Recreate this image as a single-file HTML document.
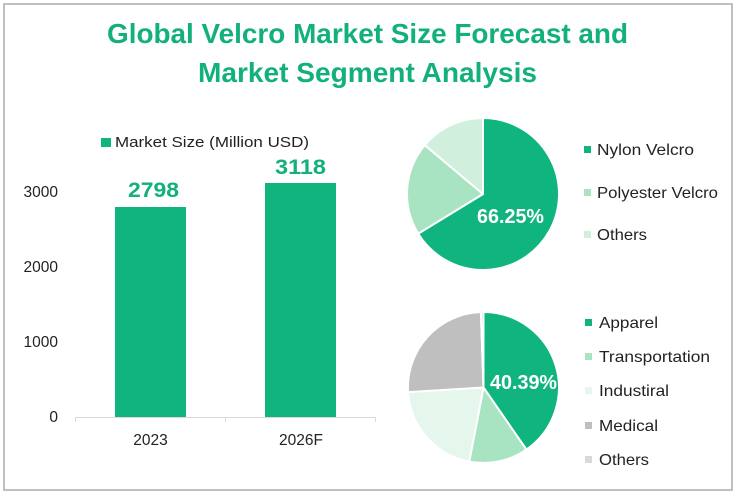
<!DOCTYPE html>
<html><head><meta charset="utf-8"><style>
html,body{margin:0;padding:0;background:#fff;}
svg{display:block;}
text{font-family:"Liberation Sans",sans-serif;}
</style></head><body>
<svg width="736" height="494" viewBox="0 0 736 494" xmlns="http://www.w3.org/2000/svg">
<rect x="0" y="0" width="736" height="494" fill="#fff"/>
<rect x="4" y="4" width="728" height="486" fill="none" stroke="#bfbfbf" stroke-width="2"/>
<!-- Title -->
<text x="107" y="43" font-size="28" font-weight="bold" fill="#12b07b" textLength="521" lengthAdjust="spacingAndGlyphs">Global Velcro Market Size Forecast and</text>
<text x="198" y="82" font-size="28" font-weight="bold" fill="#12b07b" textLength="339" lengthAdjust="spacingAndGlyphs">Market Segment Analysis</text>
<!-- Bar chart legend -->
<rect x="101" y="138" width="10" height="9" fill="#10b47e"/>
<text x="115" y="147" font-size="15" fill="#222" textLength="194" lengthAdjust="spacingAndGlyphs">Market Size (Million USD)</text>
<!-- Y labels -->
<g font-size="15.5" fill="#222" text-anchor="end">
<text x="58" y="197">3000</text>
<text x="58" y="272">2000</text>
<text x="58" y="347">1000</text>
<text x="58" y="422">0</text>
</g>
<!-- Bars -->
<rect x="115" y="207" width="71" height="210" fill="#10b47e"/>
<rect x="265" y="183" width="71" height="234" fill="#10b47e"/>
<!-- Axis -->
<line x1="75" y1="417.5" x2="376" y2="417.5" stroke="#d9d9d9" stroke-width="1"/>
<line x1="75.5" y1="417" x2="75.5" y2="422" stroke="#d9d9d9"/>
<line x1="225.5" y1="417" x2="225.5" y2="422" stroke="#d9d9d9"/>
<line x1="375.5" y1="417" x2="375.5" y2="422" stroke="#d9d9d9"/>
<!-- Data labels -->
<text x="128" y="197" font-size="21" font-weight="bold" fill="#12b07b" textLength="51" lengthAdjust="spacingAndGlyphs">2798</text>
<text x="275" y="174" font-size="21" font-weight="bold" fill="#12b07b" textLength="51" lengthAdjust="spacingAndGlyphs">3118</text>
<!-- Category labels -->
<text x="150.5" y="445" font-size="15.5" fill="#222" text-anchor="middle">2023</text>
<text x="301" y="445" font-size="15.5" fill="#222" text-anchor="middle">2026F</text>

<!-- Pie 1 -->
<g stroke="#fff" stroke-width="2" stroke-linejoin="round">
<path d="M483,194 L483,118 A76,76 0 1 1 418.2,233.7 Z" fill="#10b47e"/>
<path d="M483,194 L418.2,233.7 A76,76 0 0 1 424.8,145.1 Z" fill="#a9e4c2"/>
<path d="M483,194 L424.8,145.1 A76,76 0 0 1 483,118 Z" fill="#d0efdd"/>
</g>
<text x="477" y="223" font-size="20" font-weight="bold" fill="#fff" textLength="67" lengthAdjust="spacingAndGlyphs">66.25%</text>
<!-- Legend 1 -->
<rect x="584" y="146" width="7" height="7" fill="#10b47e"/>
<text x="597" y="155" font-size="16" fill="#222" textLength="97" lengthAdjust="spacingAndGlyphs">Nylon Velcro</text>
<rect x="584" y="189" width="7" height="7" fill="#a9e4c2"/>
<text x="597" y="198" font-size="16" fill="#222" textLength="121" lengthAdjust="spacingAndGlyphs">Polyester Velcro</text>
<rect x="584" y="231" width="7" height="7" fill="#d0efdd"/>
<text x="597" y="240" font-size="16" fill="#222" textLength="50" lengthAdjust="spacingAndGlyphs">Others</text>

<!-- Pie 2 -->
<g stroke="#fff" stroke-width="2" stroke-linejoin="round">
<path d="M483.5,387.5 L483.5,312 A75.5,75.5 0 0 1 526.4,449.6 Z" fill="#10b47e"/>
<path d="M483.5,387.5 L526.4,449.6 A75.5,75.5 0 0 1 469.2,461.6 Z" fill="#a9e4c2"/>
<path d="M483.5,387.5 L469.2,461.6 A75.5,75.5 0 0 1 408.1,392.1 Z" fill="#e5f6ec"/>
<path d="M483.5,387.5 L408.1,392.1 A75.5,75.5 0 0 1 480.9,312.05 Z" fill="#bfbfbf"/>
<path d="M483.5,387.5 L480.9,312.05 A75.5,75.5 0 0 1 483.5,312 Z" fill="#d9d9d9"/>
</g>
<text x="490" y="389" font-size="20" font-weight="bold" fill="#fff" textLength="67" lengthAdjust="spacingAndGlyphs">40.39%</text>
<!-- Legend 2 -->
<rect x="585" y="319" width="7" height="7" fill="#10b47e"/>
<text x="599" y="328" font-size="16" fill="#222" textLength="59" lengthAdjust="spacingAndGlyphs">Apparel</text>
<rect x="585" y="353" width="7" height="7" fill="#a9e4c2"/>
<text x="599" y="362" font-size="16" fill="#222" textLength="111" lengthAdjust="spacingAndGlyphs">Transportation</text>
<rect x="585" y="387" width="7" height="7" fill="#e5f6ec"/>
<text x="599" y="396" font-size="16" fill="#222" textLength="70" lengthAdjust="spacingAndGlyphs">Industiral</text>
<rect x="585" y="422" width="7" height="7" fill="#bfbfbf"/>
<text x="599" y="431" font-size="16" fill="#222" textLength="59" lengthAdjust="spacingAndGlyphs">Medical</text>
<rect x="585" y="456" width="7" height="7" fill="#d9d9d9"/>
<text x="599" y="465" font-size="16" fill="#222" textLength="50" lengthAdjust="spacingAndGlyphs">Others</text>
</svg>
</body></html>
